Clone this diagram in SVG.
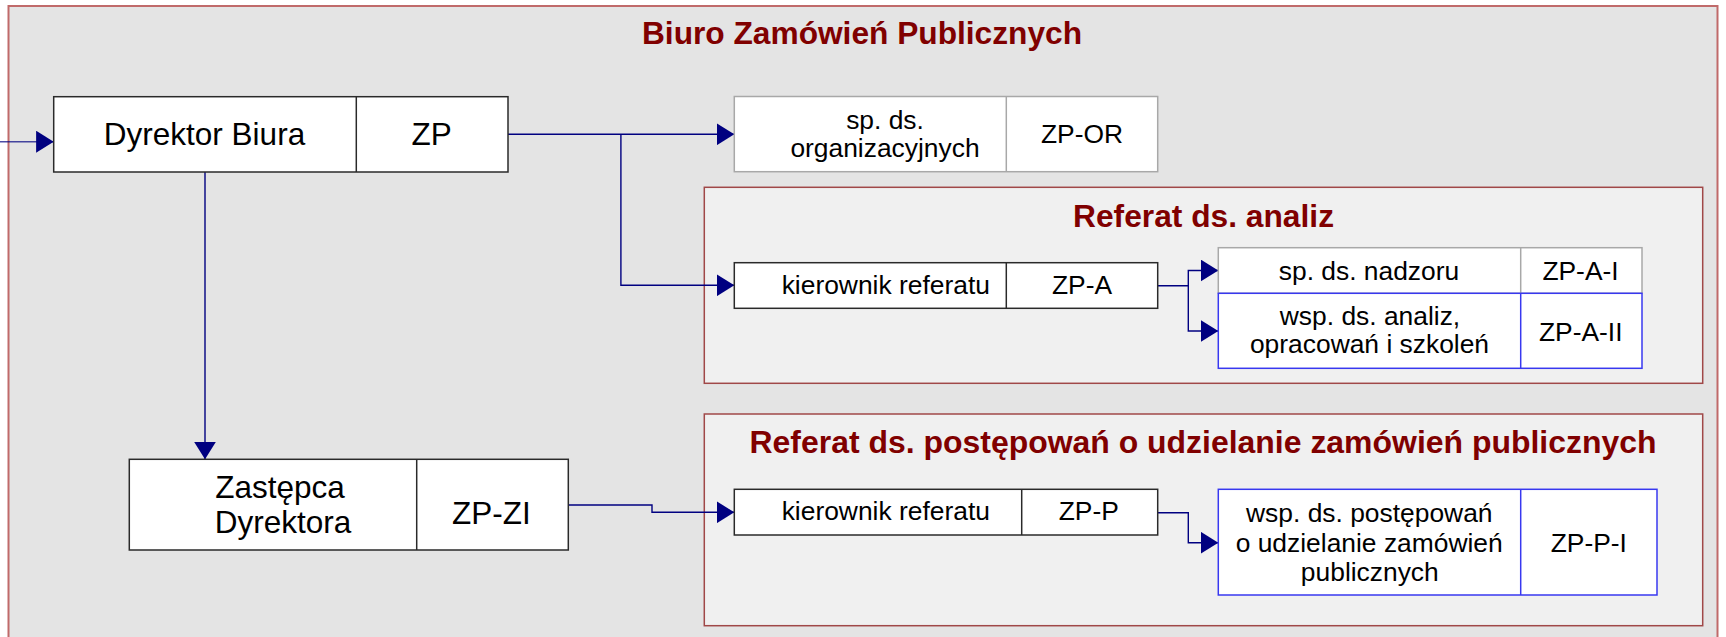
<svg xmlns="http://www.w3.org/2000/svg" width="1726" height="637" viewBox="0 0 1726 637">
<style>
.frame-outer{fill:#e4e4e4;stroke:#c06a6a;stroke-width:2}
.frame{fill:#f0f0f0;stroke:#a04848;stroke-width:1.5}
.title{font-family:"Liberation Sans",Arial,sans-serif;font-weight:bold;font-size:31.7px;fill:#800000;text-anchor:middle}
.box{fill:#ffffff;stroke-width:1.5}
.dark{stroke:#2a2a2a}
.gray{stroke:#a8a8a8}
.blue{stroke:#3838f0}
.big{font-family:"Liberation Sans",Arial,sans-serif;font-size:31.5px;fill:#000;text-anchor:middle}
.small{font-family:"Liberation Sans",Arial,sans-serif;font-size:26.4px;fill:#000;text-anchor:middle}
.conn{fill:none;stroke:#000080;stroke-width:1.4;marker-end:url(#arrow)}
</style>
<defs>
<marker id="arrow" markerUnits="userSpaceOnUse" markerWidth="18" markerHeight="22" refX="17.6" refY="11" orient="auto">
<path d="M0,0 L17.6,11 L0,22 Z" fill="#000080"/>
</marker>
</defs>

<g id="biuro">
<rect class="frame-outer" x="8.5" y="6" width="1709" height="650"/>
<text class="title" x="862" y="44" textLength="440" lengthAdjust="spacingAndGlyphs">Biuro Zamówień Publicznych</text>
</g>

<g id="referat-analiz">
<rect class="frame" x="704.3" y="187.3" width="998.4" height="196"/>
<text class="title" x="1203.5" y="226.7" textLength="261" lengthAdjust="spacingAndGlyphs">Referat ds. analiz</text>
</g>

<g id="referat-postepowan">
<rect class="frame" x="704.3" y="414" width="998.4" height="211.7"/>
<text class="title" x="1203" y="453.3" textLength="907" lengthAdjust="spacingAndGlyphs">Referat ds. postępowań o udzielanie zamówień publicznych</text>
</g>

<g id="connectors">
<path class="conn" d="M0,141.7 H53.7" stroke-opacity="0.7"/>
<path class="conn" d="M508,134.3 H734.3"/>
<path class="conn" d="M620.9,134.3 V285.3 H734.3"/>
<path class="conn" d="M205,172 V459.3"/>
<path class="conn" d="M568.3,505 H652 V512.3 H734.3"/>
<path class="conn" d="M1157.7,285.7 H1188.3 V270.5 H1218.3"/>
<path class="conn" d="M1188.3,285.7 V331 H1218.3"/>
<path class="conn" d="M1157.7,512.7 H1188.3 V542.7 H1218.3"/>
</g>

<g id="dyrektor">
<rect class="box dark" x="53.7" y="96.7" width="454.3" height="75.3"/>
<line class="dark" x1="356.3" y1="96.7" x2="356.3" y2="172" stroke-width="1.5"/>
<text class="big" x="204.5" y="145.3">Dyrektor Biura</text>
<text class="big" x="431.7" y="145.3">ZP</text>
</g>

<g id="zastepca">
<rect class="box dark" x="129.3" y="459.3" width="439" height="90.7"/>
<line class="dark" x1="416.7" y1="459.3" x2="416.7" y2="550" stroke-width="1.5"/>
<text class="big" x="280" y="497.7">Zastępca</text>
<text class="big" x="283" y="532.7">Dyrektora</text>
<text class="big" x="491.3" y="524.3">ZP-ZI</text>
</g>

<g id="sp-organizacyjnych">
<rect class="box gray" x="734.3" y="96.5" width="423.4" height="75.2"/>
<line class="gray" x1="1006.3" y1="96.5" x2="1006.3" y2="171.7" stroke-width="1.5"/>
<text class="small" x="885" y="129.3">sp. ds.</text>
<text class="small" x="885" y="157.3">organizacyjnych</text>
<text class="small" x="1082" y="142.7">ZP-OR</text>
</g>

<g id="kierownik-a">
<rect class="box dark" x="734.3" y="262.7" width="423.4" height="45.6"/>
<line class="dark" x1="1006.3" y1="262.7" x2="1006.3" y2="308.3" stroke-width="1.5"/>
<text class="small" x="885.8" y="294">kierownik referatu</text>
<text class="small" x="1082" y="294">ZP-A</text>
</g>

<g id="sp-nadzoru">
<rect class="box gray" x="1218.3" y="247.7" width="423.7" height="45.6"/>
<line class="gray" x1="1520.7" y1="247.7" x2="1520.7" y2="293.3" stroke-width="1.5"/>
<text class="small" x="1369" y="280">sp. ds. nadzoru</text>
<text class="small" x="1580.5" y="280">ZP-A-I</text>
</g>

<g id="wsp-analiz">
<rect class="box blue" x="1218.3" y="293.3" width="423.7" height="75"/>
<line class="blue" x1="1520.7" y1="293.3" x2="1520.7" y2="368.3" stroke-width="1.5"/>
<text class="small" x="1370" y="325.3">wsp. ds. analiz,</text>
<text class="small" x="1369.5" y="353.3">opracowań i szkoleń</text>
<text class="small" x="1580.7" y="340.7">ZP-A-II</text>
</g>

<g id="kierownik-p">
<rect class="box dark" x="734.3" y="489.3" width="423.4" height="45.7"/>
<line class="dark" x1="1021.7" y1="489.3" x2="1021.7" y2="535" stroke-width="1.5"/>
<text class="small" x="885.8" y="520">kierownik referatu</text>
<text class="small" x="1088.8" y="520">ZP-P</text>
</g>

<g id="wsp-postepowan">
<rect class="box blue" x="1218.3" y="489.3" width="438.7" height="105.7"/>
<line class="blue" x1="1520.7" y1="489.3" x2="1520.7" y2="595" stroke-width="1.5"/>
<text class="small" x="1369.3" y="521.7">wsp. ds. postępowań</text>
<text class="small" x="1369.2" y="551.7">o udzielanie zamówień</text>
<text class="small" x="1369.8" y="581">publicznych</text>
<text class="small" x="1588.8" y="551.7">ZP-P-I</text>
</g>
</svg>
